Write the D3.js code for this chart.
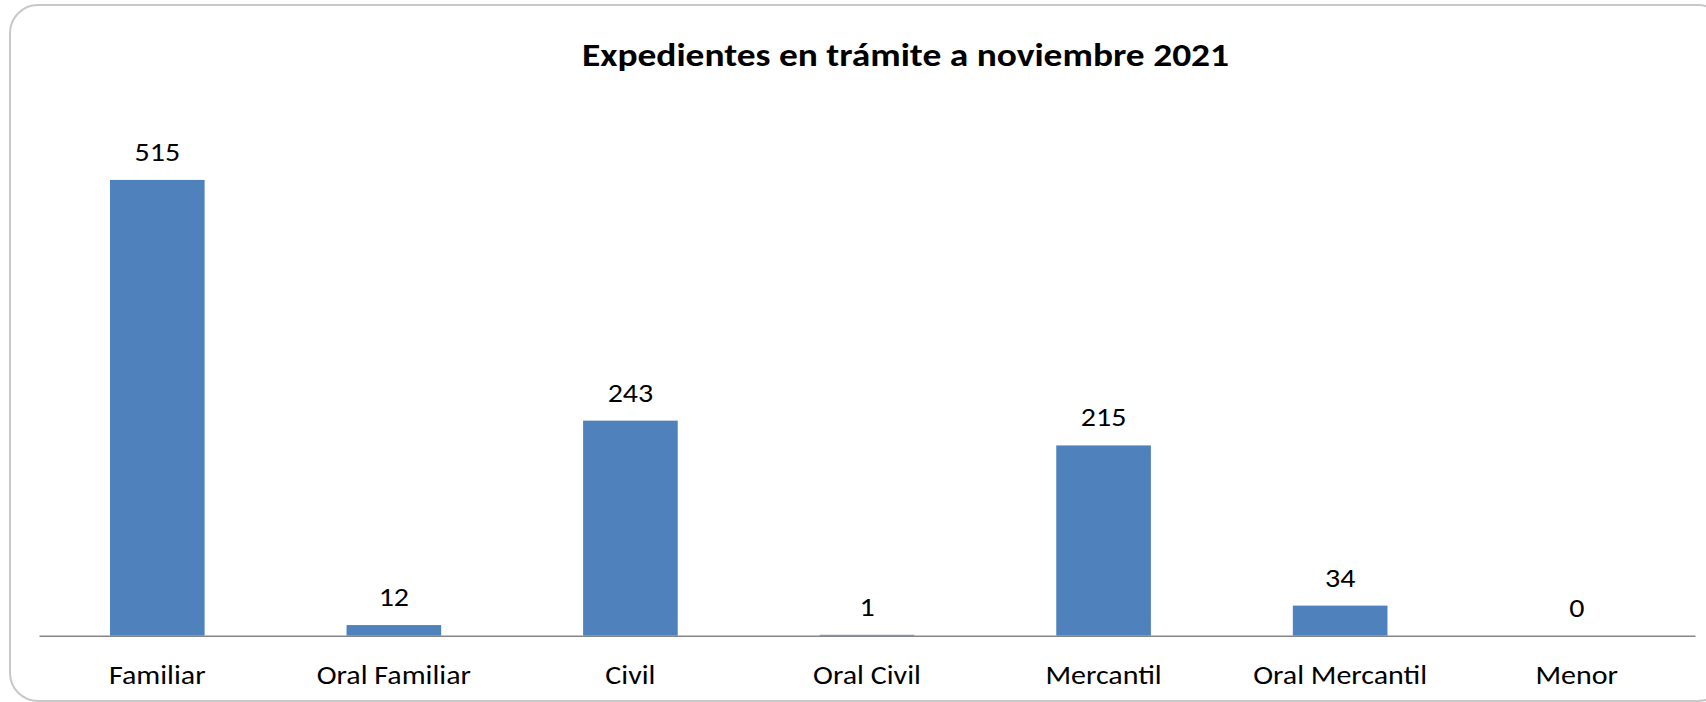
<!DOCTYPE html>
<html>
<head>
<meta charset="utf-8">
<script src="https://cdn.jsdelivr.net/npm/d3@7"></script>
<style>
	html, body { margin: 0; padding: 0; background: #fff; }
	svg { display: block; }
	text { font-family: Carlito, Lato, "Open Sans", sans-serif; fill: #000; }
</style>
</head>
<body>
<svg id="chart"></svg>
<script>
const categories = ['Familiar', 'Oral Familiar', 'Civil', 'Oral Civil', 'Mercantil', 'Oral Mercantil', 'Menor'],
	values = [515, 12, 243, 1, 215, 34, 0],
	yDomain = [0, 600],
	title = 'Expedientes en trámite a noviembre 2021';

const WIDTH = 1706,
	HEIGHT = 702,
	STRETCH = 1.11, // the reference is stretched sideways
	TITLE_STRETCH = 1.17;

const svg = d3.select('#chart')
	.attr('width', WIDTH)
	.attr('height', HEIGHT);

// chart frame
svg.append('rect')
	.attr('x', 10).attr('y', 5)
	.attr('width', 1716).attr('height', 696)
	.attr('rx', 28).attr('ry', 28)
	.attr('fill', '#fff')
	.attr('stroke', '#c8c8c8')
	.attr('stroke-width', 2);

const x = d3.scaleBand()
	.domain(categories)
	.range([39, 1695])
	.paddingInner(0.6)
	.paddingOuter(0.3);

const y = d3.scaleLinear()
	.domain(yDomain)
	.range([635.7, 104.7]);

const data = categories.map((c, i) => ({ cat: c, val: values[i] }));

// bars
svg.append('g').selectAll('rect')
	.data(data)
	.join('rect')
	.attr('x', d => x(d.cat))
	.attr('y', d => y(d.val))
	.attr('width', x.bandwidth())
	.attr('height', d => y(0) - y(d.val))
	.attr('fill', '#4f81bd');

// axis line, no ticks
svg.append('g')
	.attr('transform', `translate(0,${y(0)})`)
	.call(d3.axisBottom(x).tickSize(0).tickFormat(''))
	.call(g => g.select('.domain').attr('stroke', '#868686').attr('stroke-width', 1.6));

// category labels
svg.append('g').selectAll('text')
	.data(data)
	.join('text')
	.attr('transform', d => `translate(${x(d.cat) + x.bandwidth()/2},684) scale(${STRETCH},1)`)
	.attr('text-anchor', 'middle')
	.style('font-size', '27px')
	.text(d => d.cat);

// value labels
svg.append('g').selectAll('text')
	.data(data)
	.join('text')
	.attr('transform', d => `translate(${x(d.cat) + x.bandwidth()/2},${y(d.val) - 19}) scale(${STRETCH},1)`)
	.attr('text-anchor', 'middle')
	.style('font-size', '27px')
	.text(d => d.val);

// title
svg.append('text')
	.attr('transform', `translate(905.5,66) scale(${TITLE_STRETCH},1)`)
	.attr('text-anchor', 'middle')
	.style('font-size', '32px')
	.style('font-weight', 'bold')
	.text(title);
</script>
</body>
</html>
